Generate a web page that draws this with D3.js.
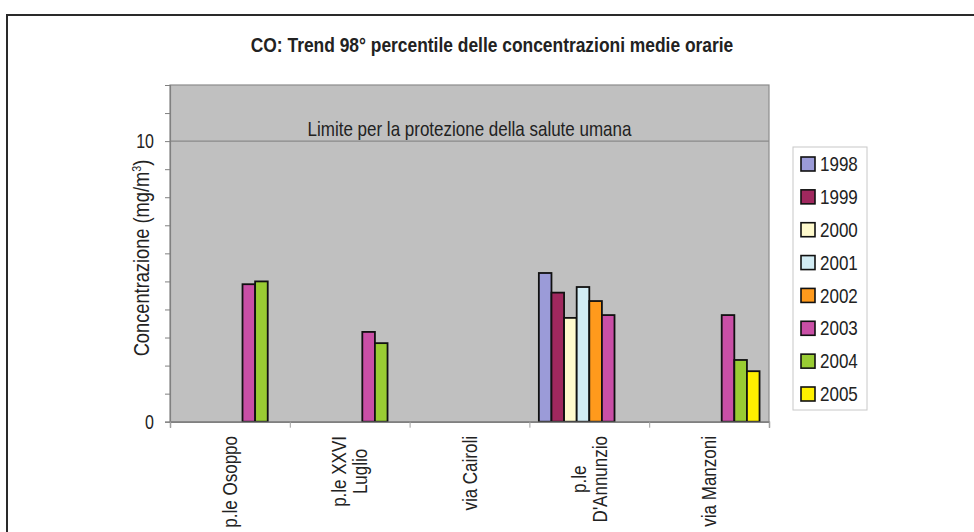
<!DOCTYPE html>
<html>
<head>
<meta charset="utf-8">
<script src="https://cdn.jsdelivr.net/npm/d3@7/dist/d3.min.js"></script>
<style>
  body { margin: 0; background: #fff; }
  text { font-family: "Liberation Sans", Arial, sans-serif; fill: #222; }
</style>
</head>
<body>
<div id="chart"></div>
<script>
// stations (multi-line labels as in the original)
const stations = [["p.le Osoppo"], ["p.le XXVI", "Luglio"], ["via Cairoli"], ["p.le", "D'Annunzio"], ["via Manzoni"]];
const years = ["1998", "1999", "2000", "2001", "2002", "2003", "2004", "2005"];
const yearColors = ["#9b9bd8", "#a0285e", "#fffacd", "#d2ecf4", "#ff9a1c", "#c94fa6", "#99cc33", "#fff000"];

// 98th percentile per station, null = not measured
const v1998 = [null, null, null, 5.3, null];
const v1999 = [null, null, null, 4.6, null];
const v2000 = [null, null, null, 3.7, null];
const v2001 = [null, null, null, 4.8, null];
const v2002 = [null, null, null, 4.3, null];
const v2003 = [4.9, 3.2, null, 3.8, 3.8];
const v2004 = [5.0, 2.8, null, null, 2.2];
const v2005 = [null, null, null, null, 1.8];
const series = [v1998, v1999, v2000, v2001, v2002, v2003, v2004, v2005];

const yMax = 12;
const yLabelled = [0, 10];
const limitValue = 10;
const limitText = "Limite per la protezione della salute umana";
const title = "CO: Trend 98° percentile delle concentrazioni medie orarie";

const W = 974, H = 532;
const plot = { left: 170, right: 769, top: 85, bottom: 421.7 };

// the original uses a narrow font: squeeze text along its baseline
const place = (sel, px, py, sx, rot) =>
  sel.attr("transform", `translate(${px},${py})${rot ? " rotate(" + rot + ")" : ""} scale(${sx},1)`);

const svg = d3.select("#chart").append("svg")
  .attr("width", W).attr("height", H);

// outer frame
svg.append("rect")
  .attr("x", 7).attr("y", 15)
  .attr("width", W + 20).attr("height", H + 20)
  .attr("fill", "none").attr("stroke", "#2a2a2a").attr("stroke-width", 2);

place(svg.append("text"), 492, 52, 0.87)
  .attr("text-anchor", "middle")
  .style("font-size", "20px").style("font-weight", "bold")
  .text(title);

const x = d3.scaleBand().domain(d3.range(stations.length)).range([plot.left, plot.right]);
const xInner = d3.scaleBand().domain(years).range([0, x.bandwidth()]).paddingOuter(0.75);
const xEdges = d3.scaleLinear().domain([0, stations.length]).range([plot.left, plot.right]);
const y = d3.scaleLinear().domain([0, yMax]).range([plot.bottom, plot.top]);

// plot area
svg.append("rect")
  .attr("x", plot.left).attr("y", plot.top)
  .attr("width", plot.right - plot.left).attr("height", plot.bottom - plot.top)
  .attr("fill", "#c0c0c0").attr("stroke", "#8c8c8c").attr("stroke-width", 1.2);

// limit line
svg.append("line")
  .attr("x1", plot.left).attr("x2", plot.right)
  .attr("y1", y(limitValue)).attr("y2", y(limitValue))
  .attr("stroke", "#8a8a8a").attr("stroke-width", 1.2);
place(svg.append("text"), (plot.left + plot.right) / 2, y(limitValue) - 5, 0.85)
  .attr("text-anchor", "middle")
  .style("font-size", "20px")
  .text(limitText);

// bars
series.forEach((vals, si) => {
  svg.append("g").selectAll("rect")
    .data(vals.map((v, i) => ({ v, i })).filter((d) => d.v !== null))
    .enter().append("rect")
    .attr("x", (d) => x(d.i) + xInner(years[si]))
    .attr("y", (d) => y(d.v))
    .attr("width", xInner.bandwidth())
    .attr("height", (d) => y(0) - y(d.v))
    .attr("fill", yearColors[si])
    .attr("stroke", "#111").attr("stroke-width", 1.8);
});

// y axis
const yAxis = svg.append("g")
  .attr("transform", `translate(${plot.left},0)`)
  .call(d3.axisLeft(y).tickValues(d3.range(0, yMax + 1)).tickSize(5).tickFormat(""));
yAxis.select(".domain").attr("stroke", "#808080").attr("stroke-width", 1.2);
yAxis.selectAll(".tick line").attr("stroke", "#808080");
yLabelled.forEach((v) => {
  place(svg.append("text"), 154, y(v), 0.8)
    .attr("dy", "0.35em").attr("text-anchor", "end")
    .style("font-size", "20px")
    .text(v);
});

// x axis (ticks at category edges)
const xAxis = svg.append("g")
  .attr("transform", `translate(0,${plot.bottom})`)
  .call(d3.axisBottom(xEdges).tickValues(d3.range(0, stations.length + 1)).tickSize(6).tickFormat(""));
xAxis.select(".domain").attr("stroke", "#808080").attr("stroke-width", 1.4);
xAxis.selectAll(".tick line").attr("stroke", "#a0a0a0");

// station labels, rotated, top aligned near axis, lines centred in block
const labelSquash = 0.85;
stations.forEach((lines, i) => {
  const g = svg.append("g");
  const texts = lines.map((l) => g.append("text").style("font-size", "20px").attr("text-anchor", "middle").text(l));
  const maxW = d3.max(texts, (t) => t.node().getComputedTextLength()) * labelSquash;
  const cy = 436 + maxW / 2;
  const cx = x(i) + x.bandwidth() / 2;
  texts.forEach((t, k) => {
    const lx = cx + (k - (lines.length - 1) / 2) * 21;
    place(t, lx, cy, labelSquash, -90).attr("dy", "0.35em");
  });
});

// y axis title
const yt = place(svg.append("text"), 141, 258, 0.83, -90)
  .attr("dy", "0.35em")
  .attr("text-anchor", "middle")
  .style("font-size", "22px");
yt.append("tspan").text("Concentrazione (mg/m");
yt.append("tspan").attr("baseline-shift", "super").style("font-size", "13px").text("3");
yt.append("tspan").text(")");

// legend
const leg = svg.append("g");
leg.append("rect")
  .attr("x", 793).attr("y", 147).attr("width", 74).attr("height", 263)
  .attr("fill", "#fff").attr("stroke", "#c8c8c8").attr("stroke-width", 1);
const legY = d3.scalePoint().domain(years).range([164, 394]);
years.forEach((yr, i) => {
  leg.append("rect")
    .attr("x", 801).attr("y", legY(yr) - 7).attr("width", 14).attr("height", 14)
    .attr("fill", yearColors[i]).attr("stroke", "#111").attr("stroke-width", 1.6);
  place(leg.append("text"), 820, legY(yr), 0.85)
    .attr("dy", "0.36em")
    .style("font-size", "20px")
    .text(yr);
});
</script>
</body>
</html>
